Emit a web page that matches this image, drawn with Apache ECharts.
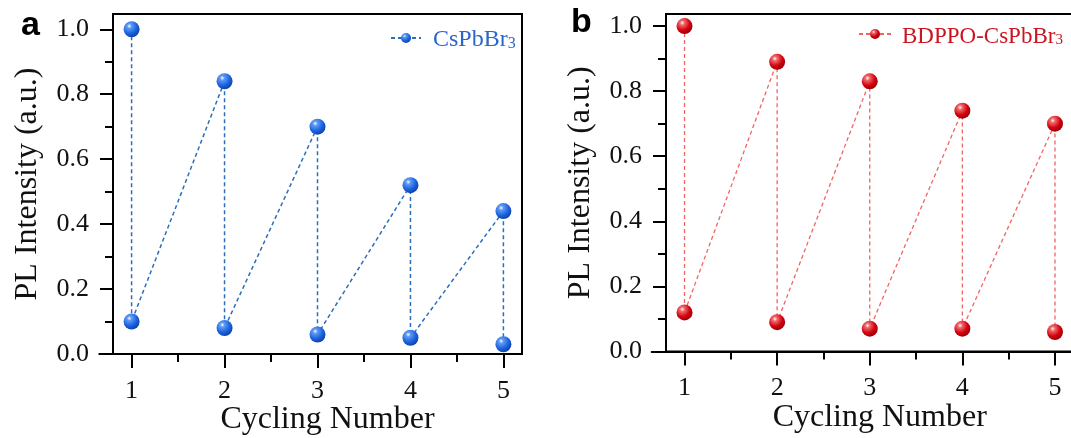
<!DOCTYPE html>
<html>
<head>
<meta charset="utf-8">
<script src="https://cdn.jsdelivr.net/npm/echarts@6/dist/echarts.min.js"></script>
<style>
  html, body { margin: 0; padding: 0; background: #fff; }
  #chart { width: 1071px; height: 438px; }
</style>
</head>
<body>
<div id="chart"></div>
<script>
// Cycle numbers and PL intensity (normalised) before and after each cycle
const cycles = [1, 2, 3, 4, 5];
const pristineHigh = [1.00, 0.84, 0.70, 0.52, 0.44];
const pristineLow  = [0.10, 0.08, 0.06, 0.05, 0.03];
const bdppoHigh = [1.00, 0.89, 0.83, 0.74, 0.70];
const bdppoLow  = [0.12, 0.09, 0.07, 0.07, 0.06];

const yTicks = [0, 0.2, 0.4, 0.6, 0.8, 1.0];
const yMinorTicks = [0.1, 0.3, 0.5, 0.7, 0.9];
const xMinorTicks = [1.5, 2.5, 3.5, 4.5];

const SERIF = 'Liberation Serif';

// Zig-zag path: high value of a cycle, then its low value, then on to the next cycle
function zigzag(high, low) {
  const pts = [];
  cycles.forEach((c, i) => { pts.push([c, high[i]]); pts.push([c, low[i]]); });
  return pts;
}

function sphere(light, mid, dark) {
  return {
    type: 'radial', x: 0.36, y: 0.3, r: 0.78,
    colorStops: [
      { offset: 0, color: '#ffffff' },
      { offset: 0.18, color: light },
      { offset: 0.6, color: mid },
      { offset: 1, color: dark }
    ]
  };
}

// label only values that sit (within rounding) on one of the given ticks
function pickLabel(list, digits) {
  return v => {
    const hit = list.find(t => Math.abs(t - v) < 1e-6);
    return hit === undefined ? '' : hit.toFixed(digits);
  };
}

const panels = [
  {
    name: 'CsPbBr3', label: 'CsPbBr', high: pristineHigh, low: pristineLow,
    gridLeft: 113, gridWidth: 409, axisLeft: 99.3, top: 14, height: 340, yMax: 1.047,
    lineColor: '#2a6fb8', lineWidth: 1.5, textColor: '#2a66cc',
    marker: sphere('#5f9bf5', '#1b62e0', '#0b3c9c'),
    legendLeft: 390, legendTop: 28, legendWidth: 30, legendPad: 7, legendFont: 24, subFont: 16,
    tag: 'a', tagX: 21, tagY: 9
  },
  {
    name: 'BDPPO-CsPbBr3', label: 'BDPPO-CsPbBr', high: bdppoHigh, low: bdppoLow,
    gridLeft: 666, gridWidth: 407.5, axisLeft: 651.7, top: 14, height: 337.5, yMax: 1.037,
    lineColor: '#f06464', lineWidth: 1.3, textColor: '#cc1420',
    marker: sphere('#f06a6a', '#d2000e', '#8e0006'),
    legendLeft: 858, legendTop: 25, legendWidth: 32, legendPad: 6, legendFont: 23, subFont: 15,
    tag: 'b', tagX: 571, tagY: 6
  }
];

const grid = [], xAxis = [], yAxis = [], series = [], legend = [], graphic = [];

panels.forEach((p, k) => {
  const g = k * 2;
  // plotting frame
  grid.push({
    left: p.gridLeft, top: p.top, width: p.gridWidth, height: p.height,
    outerBoundsMode: 'none', containLabel: false,
    show: true, borderColor: '#000', borderWidth: 2, backgroundColor: 'transparent'
  });
  // bottom axis line, which runs a little past the left frame edge
  grid.push({
    left: p.axisLeft, top: p.top, width: p.gridLeft + p.gridWidth - p.axisLeft, height: p.height,
    outerBoundsMode: 'none', containLabel: false
  });

  // main x axis: ticks and labels at each cycle
  xAxis.push({
    type: 'value', gridIndex: g, min: 0.8, max: 5.2, interval: 0.2, position: 'bottom',
    axisLine: { show: false },
    axisTick: { show: true, customValues: cycles, length: 14, lineStyle: { color: '#000', width: 2 } },
    axisLabel: {
      margin: 24, fontFamily: SERIF, fontSize: 26, color: '#111',
      showMinLabel: true, showMaxLabel: true,
      formatter: pickLabel(cycles, 0)
    },
    splitLine: { show: false },
    name: 'Cycling Number', nameLocation: 'middle', nameGap: 50, nameMoveOverlap: false,
    nameTextStyle: { fontFamily: SERIF, fontSize: 32, color: '#111', padding: [0, 0, 0, 20] }
  });
  // minor x ticks
  xAxis.push({
    type: 'value', gridIndex: g, min: 0.8, max: 5.2, position: 'bottom',
    axisLine: { show: false },
    axisTick: { show: true, customValues: xMinorTicks, length: 8, lineStyle: { color: '#000', width: 2 } },
    axisLabel: { show: false }, splitLine: { show: false }
  });
  // extended bottom axis line
  xAxis.push({
    type: 'value', gridIndex: g + 1, min: 0, max: 1, position: 'bottom',
    axisLine: { show: true, lineStyle: { color: '#000', width: 2 } },
    axisTick: { show: false }, axisLabel: { show: false }, splitLine: { show: false }
  });

  yAxis.push({
    type: 'value', gridIndex: g, min: 0, max: p.yMax, interval: 0.2, position: 'left',
    axisLine: { show: false },
    axisTick: { show: true, customValues: yTicks, length: 13, lineStyle: { color: '#000', width: 2 } },
    axisLabel: {
      margin: 24, fontFamily: SERIF, fontSize: 26, color: '#111',
      formatter: pickLabel(yTicks, 1)
    },
    splitLine: { show: false },
    name: 'PL Intensity (a.u.)', nameLocation: 'middle', nameGap: 69, nameRotate: 90,
    nameMoveOverlap: false,
    nameTextStyle: { fontFamily: SERIF, fontSize: 32, color: '#111' }
  });
  yAxis.push({
    type: 'value', gridIndex: g, min: 0, max: p.yMax, position: 'left',
    axisLine: { show: false },
    axisTick: { show: true, customValues: yMinorTicks, length: 8, lineStyle: { color: '#000', width: 2 } },
    axisLabel: { show: false }, splitLine: { show: false }
  });
  yAxis.push({ type: 'value', gridIndex: g + 1, show: false, min: 0, max: 1 });

  series.push({
    type: 'line', name: p.name,
    xAxisIndex: k * 3, yAxisIndex: k * 3,
    data: zigzag(p.high, p.low),
    symbol: 'circle', symbolSize: 16,
    itemStyle: { color: p.marker },
    lineStyle: { color: p.lineColor, width: p.lineWidth, type: [4, 3] },
    animation: false, z: 3
  });

  legend.push({
    data: [p.name], left: p.legendLeft, top: p.legendTop, padding: 0,
    itemWidth: p.legendWidth, itemHeight: 12.5,
    formatter: () => '{t|' + p.label + '}{s|3}',
    textStyle: {
      rich: {
        t: { fontFamily: SERIF, fontSize: p.legendFont, color: p.textColor, lineHeight: 28,
             verticalAlign: 'bottom', padding: [0, 0, 0, p.legendPad] },
        s: { fontFamily: SERIF, fontSize: p.subFont, color: p.textColor, lineHeight: 22,
             verticalAlign: 'bottom' }
      }
    },
    selectedMode: false
  });

  graphic.push({
    type: 'text', left: p.tagX, top: p.tagY,
    style: { text: p.tag, font: 'bold 34px "Liberation Sans", Arial, sans-serif', fill: '#000' }
  });
});

const chart = echarts.init(document.getElementById('chart'), null, { renderer: 'canvas' });
chart.setOption({
  animation: false,
  backgroundColor: '#fff',
  grid, xAxis, yAxis, series, legend, graphic
});
</script>
</body>
</html>
